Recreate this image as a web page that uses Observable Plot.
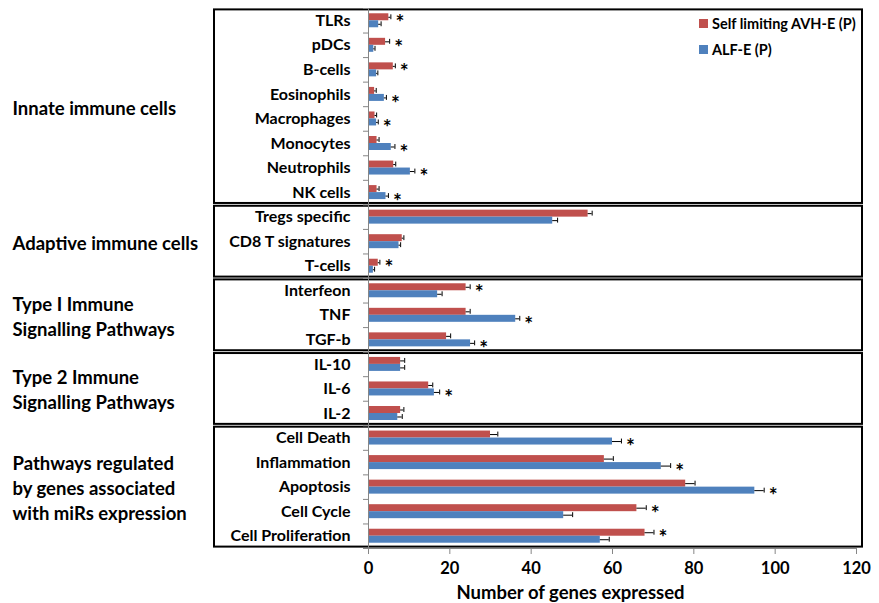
<!DOCTYPE html>
<html><head><meta charset="utf-8">
<script src="https://cdn.jsdelivr.net/npm/d3@7"></script>
<script src="https://cdn.jsdelivr.net/npm/@observablehq/plot@0.6"></script>
<style>
body{margin:0;background:#fff;font-family:Lato,"Liberation Sans",sans-serif;}
#wrap{position:relative;width:879px;height:603px;}
#wrap svg{position:absolute;left:0;top:0;}
.legend{position:absolute;left:699px;top:10px;font-weight:bold;font-size:14.5px;color:#000;font-family:Lato,sans-serif;}
.legend .row{display:flex;align-items:center;height:26px;}
.legend .sw{width:9px;height:9px;margin-right:4px;display:inline-block;}
</style></head><body><div id="wrap"></div>
<script>
const categories = ["TLRs","pDCs","B-cells","Eosinophils","Macrophages","Monocytes","Neutrophils","NK cells",
  "Tregs specific","CD8 T signatures","T-cells",
  "Interfeon","TNF","TGF-b",
  "IL-10","IL-6","IL-2",
  "Cell Death","Inflammation","Apoptosis","Cell Cycle","Cell Proliferation"];
const seriesNames = ["Self limiting AVH-E (P)","ALF-E (P)"];
const avh    = [5.0,4.2,6.1,1.5,1.6,2.1,6.2,2.1, 54,8.3,2.4, 24,24,19.2, 7.9,14.8,7.9, 30,58,78,66,68];
const avhErr = [0.5,1.0,0.5,0.4,0.4,0.5,0.5,0.5, 1.0,0.4,0.4, 1.0,1.0,1.0, 1.0,1.0,0.8, 1.8,2.2,2.3,2.3,2.2];
const alf    = [2.5,1.3,2.0,3.9,2.0,5.6,10.3,4.3, 45.3,7.5,1.2, 17,36.2,25.1, 7.9,16.2,7.2, 60,72,95,48,57];
const alfErr = [0.6,0.3,0.3,0.5,0.4,0.9,1.1,0.6, 1.2,0.4,0.3, 1.1,1.0,1.0, 1.0,1.3,1.1, 2.2,2.3,2.3,2.2,2.2];
// which series the significance star marks (0 = AVH, 1 = ALF, null = none)
const starSeries = [0,0,0,1,1,1,1,1, null,null,0, 0,1,1, null,1,null, 1,1,1,0,0];
const groupLabels = ["Innate immune cells","Adaptive immune cells","Type I Immune\nSignalling Pathways",
  "Type 2 Immune\nSignalling Pathways","Pathways regulated\nby genes associated\nwith miRs expression"];
const groupSizes = [8,3,3,3,5];
const xTicks = [0,20,40,60,80,100,120];
const xLabel = "Number of genes expressed";

const colors = ["#C0504D","#4F81BD"];
const n = categories.length;
const half = 0.285; // bar thickness in band units

const rows = categories.flatMap((c,i) => [
  {i, s:0, v:avh[i], e:avhErr[i], pos:i - half/2},
  {i, s:1, v:alf[i], e:alfErr[i], pos:i + half/2}
]);
let acc = 0;
const groups = groupLabels.map((g,k) => {
  const start = acc; acc += groupSizes[k];
  return {label:g, start, end:acc-1};
});
const stars = rows.filter(d => starSeries[d.i] === d.s);

const font = "Lato, 'Liberation Sans', sans-serif";
const plot = Plot.plot({
  width: 879, height: 603,
  marginLeft: 368, marginRight: 23, marginTop: 8, marginBottom: 55,
  style: {fontFamily: font, background: "transparent"},
  x: {domain: [0,120], axis: null},
  y: {domain: [-0.5, n - 0.5], reverse: true, axis: null},
  marks: [
    Plot.rect(groups, {y1: d => d.start - 0.5, y2: d => d.end + 0.5, insetLeft: -154, insetRight: -6,
      insetTop: 1.4, insetBottom: 1.4, fill: "none", stroke: "#000", strokeWidth: 2}),
    Plot.rect(rows, {x1: 0, x2: "v", y1: d => d.pos - half/2, y2: d => d.pos + half/2,
      fill: d => colors[d.s]}),
    Plot.ruleY(rows, {y: "pos", x1: "v", x2: d => d.v + d.e, stroke: "#000", strokeWidth: 1}),
    Plot.ruleX(rows, {x: d => d.v + d.e, y1: d => d.pos - 0.1, y2: d => d.pos + 0.1, stroke: "#000", strokeWidth: 1}),
    Plot.text(stars, {x: d => d.v + d.e, y: "pos", text: () => "*", dx: 9, dy: 6, textAnchor: "middle",
      fontSize: 21, fontWeight: "bold", fill: "#000"}),
    Plot.ruleX([0], {stroke: "#868686", strokeWidth: 1}),
    Plot.ruleY([n - 0.5], {stroke: "#868686", strokeWidth: 1}),
    Plot.axisY(d3.range(n + 1).map(i => i - 0.5), {tickSize: 5, tickFormat: () => "", stroke: "#868686", label: null}),
    Plot.axisY(d3.range(n), {tickSize: 0, tickPadding: 18, tickFormat: i => categories[i], label: null,
      fontSize: 16, fontWeight: "bold", fill: "#000"}),
    Plot.axisX(xTicks, {tickSize: 6, tickPadding: 8, stroke: "#868686", label: null,
      fontSize: 16.5, fontWeight: "bold", fill: "#000"}),
    Plot.text(groups, {y: d => (d.start + d.end) / 2, text: "label", frameAnchor: "left", dx: -356,
      textAnchor: "start", lineHeight: 1.35, fontSize: 18.5, fontWeight: "bold", fill: "#000"}),
    Plot.text([xLabel], {frameAnchor: "bottom", lineAnchor: "middle", dx: -42, dy: 45, fontSize: 18.5,
      fontWeight: "bold", fill: "#000"})
  ]
});
const wrap = document.getElementById("wrap");
wrap.appendChild(plot);
const leg = document.createElement("div");
leg.className = "legend";
seriesNames.forEach((s,k) => {
  const r = document.createElement("div");
  r.className = "row";
  r.innerHTML = `<span class="sw" style="background:${colors[k]}"></span><span>${s}</span>`;
  leg.appendChild(r);
});
wrap.appendChild(leg);
</script>
</body></html>
